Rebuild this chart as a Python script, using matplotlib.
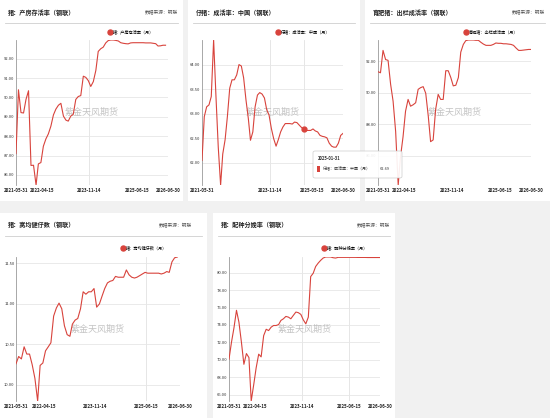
import matplotlib
matplotlib.use("Agg")
import matplotlib.pyplot as plt
from matplotlib.patches import Rectangle, FancyBboxPatch
from matplotlib.lines import Line2D
import pandas as pd

plt.rcParams['font.family'] = ['Noto Sans CJK SC', 'DejaVu Sans']

# monthly data, month ends from 2021-05-31
farrow = [87.10, 90.40, 89.22, 89.20, 89.90, 90.35, 86.49, 86.50, 85.48, 86.57,
          86.64, 87.48, 87.86, 88.12, 88.52, 89.10, 89.40, 89.60, 89.70, 89.04,
          88.83, 88.78, 89.04, 89.13, 89.90, 90.05, 90.10, 91.10, 91.04, 90.87,
          90.57, 90.82, 91.40, 92.38, 92.52, 92.60, 92.82, 92.94, 92.97, 92.97,
          92.95, 92.92, 92.83, 92.80, 92.78, 92.77, 92.82, 92.83, 92.83, 92.83,
          92.83, 92.83, 92.82, 92.82, 92.82, 92.80, 92.78, 92.66, 92.67, 92.70,
          92.70]

piglet = [62.05, 62.94, 63.14, 63.18, 63.35, 64.50, 63.38, 62.32, 61.55, 62.18,
          62.47, 62.94, 63.52, 63.69, 63.69, 63.79, 64.00, 63.97, 63.73, 63.28,
          62.90, 62.46, 62.63, 63.14, 63.38, 63.43, 63.40, 63.32, 63.08, 62.97,
          62.70, 62.49, 62.34, 62.47, 62.63, 62.73, 62.80, 62.80, 62.80, 62.79,
          62.83, 62.82, 62.77, 62.72, 62.69, 62.66, 62.66, 62.66, 62.69, 62.65,
          62.63, 62.56, 62.54, 62.53, 62.51, 62.40, 62.34, 62.32, 62.32, 62.40,
          62.56, 62.60]

finisher = [91.34, 91.27, 92.69, 92.11, 92.06, 90.54, 89.47, 87.55, 84.15, 85.94,
            87.22, 88.83, 89.58, 89.15, 89.24, 89.37, 90.22, 90.33, 90.39, 89.97,
            88.51, 86.90, 87.01, 88.94, 89.90, 89.58, 89.58, 91.40, 91.40, 90.97,
            90.44, 90.48, 90.97, 92.58, 93.07, 93.31, 93.35, 93.35, 93.35, 93.33,
            93.33, 93.20, 93.09, 93.01, 93.01, 93.01, 93.07, 93.16, 93.14, 93.14,
            93.11, 93.11, 93.09, 93.07, 93.01, 92.84, 92.69, 92.69, 92.71, 92.73,
            92.75, 92.75]

healthy = [10.26, 10.35, 10.32, 10.47, 10.38, 10.38, 10.25, 10.08, 9.80, 10.24,
           10.27, 10.42, 10.47, 10.52, 10.85, 10.95, 11.01, 10.94, 10.73, 10.62,
           10.60, 10.75, 10.80, 10.82, 10.94, 11.15, 11.12, 11.15, 11.15, 11.19,
           10.96, 11.00, 11.10, 11.19, 11.26, 11.28, 11.29, 11.34, 11.33, 11.33,
           11.33, 11.42, 11.36, 11.33, 11.32, 11.33, 11.35, 11.37, 11.39, 11.38,
           11.38, 11.38, 11.38, 11.38, 11.37, 11.38, 11.40, 11.39, 11.52, 11.57,
           11.58]

farrowing = [70.08, 72.00, 73.67, 75.68, 74.32, 72.00, 69.50, 70.73, 70.27, 65.30,
             67.18, 69.11, 70.66, 70.35, 72.78, 73.51, 73.36, 73.75, 73.94, 73.94,
             74.05, 74.52, 74.71, 74.98, 74.90, 74.71, 75.10, 75.48, 75.41, 75.21,
             74.59, 74.13, 74.90, 79.54, 79.92, 80.69, 81.08, 81.39, 81.66, 81.78,
             81.78, 81.78, 81.70, 81.66, 81.74, 81.74, 81.74, 81.74, 81.74, 81.74,
             81.74, 81.74, 81.73, 81.73, 81.73, 81.73, 81.72, 81.72, 81.72, 81.72,
             81.72, 81.72]

titles = ['猪：产房存活率（钢联）', '仔猪：成活率：中国（钢联）', '育肥猪：出栏成活率（钢联）',
          '猪：窝均健仔数（钢联）', '猪：配种分娩率（钢联）']
legends = ['猪：产房存活率（月）', '仔猪：成活率：中国（月）', '育肥猪：出栏成活率（月）',
           '猪：窝均健仔数（月）', '猪：配种分娩率（月）']
source = '数据来源：钢联'
ticks_full = ['2021-05-31', '2022-04-15', '2023-11-14', '2025-06-15', '2026-06-30']
ticks_p2 = ['2021-05-31', '2023-11-14', '2025-05-15', '2026-06-30']
yticks = [[86, 87, 88, 89, 90, 91, 92], [62, 62.5, 63, 63.5, 64], [86, 88, 90, 92],
          [10, 10.5, 11, 11.5], [66, 68, 70, 72, 74, 76, 78, 80]]
tip_date = '2025-01-31'

W, H = 550, 418
RED = '#d8433c'

fig = plt.figure(figsize=(W / 100, H / 100), dpi=100, facecolor='#f1f1f1')


def fx(x):
    return x / W


def fy(y):
    return 1 - y / H


def card(x0, y0, x1, y1):
    fig.add_artist(Rectangle((fx(x0), fy(y1)), fx(x1 - x0), (y1 - y0) / H,
                             transform=fig.transFigure, facecolor='white',
                             edgecolor='none', zorder=0))


def panel(cardbox, axbox, title, leg, legpos, vals, ticks, yt, vlines, src_x):
    x0, y0, x1, y1 = cardbox
    card(x0, y0, x1, y1)
    fig.text(fx(x0 + 8), fy(y0 + 12), title, fontsize=4.4, fontweight='bold',
             color='#222222', va='center', ha='left')
    if src_x:
        fig.text(fx(src_x), fy(y0 + 12), source, fontsize=3.4, color='#555555',
                 va='center', ha='right', style='italic')
    fig.add_artist(Line2D([fx(x0 + 5), fx(x1 - 5)], [fy(y0 + 23)] * 2,
                          transform=fig.transFigure, color='#cfcfcf', lw=0.6))

    ax0, ay0, ax1, ay1 = axbox
    ax = fig.add_axes([fx(ax0), fy(ay1), fx(ax1 - ax0), (ay1 - ay0) / H])
    ax.set_facecolor('white')
    dates = pd.date_range('2021-05-31', periods=len(vals), freq='ME')
    ax.plot(dates, vals, color=RED, lw=0.8, zorder=3)
    for v in vlines:
        ax.axvline(pd.Timestamp(v), color='#e2e2e2', lw=0.6, zorder=1)
    ax.set_xlim(pd.Timestamp('2021-05-31'), pd.Timestamp('2026-06-30'))
    ax.set_ylim(min(vals), max(vals))
    ax.set_xticks([pd.Timestamp(t) for t in ticks])
    ax.set_xticklabels(ticks, fontsize=3.2, fontweight='bold', color='#222222')
    ax.set_yticks(yt)
    ax.set_yticklabels(['%.2f' % v for v in yt], fontsize=3.0, color='#333333')
    ax.tick_params(length=0, pad=2)
    ax.tick_params(axis='y', pad=1)
    ax.grid(axis='y', color='#e6e6e6', lw=0.6, zorder=1)
    for s in ['top', 'right', 'bottom']:
        ax.spines[s].set_visible(False)
    ax.spines['left'].set_color('#9a9a9a')
    ax.spines['left'].set_linewidth(0.6)
    ax.text(0.5, 0.5, '紫金天风期货', transform=ax.transAxes, fontsize=6.5,
            color='#b0b0b0', alpha=0.75, ha='center', va='center', zorder=2)

    handle = Line2D([], [], color=RED, marker='o', markersize=3.6, ls='none')
    fig.legend([handle], [leg], loc='center', frameon=False,
               bbox_to_anchor=(fx(legpos[0]), fy(legpos[1])),
               prop={'size': 3.0}, handletextpad=0.1, handlelength=1.0,
               borderpad=0, borderaxespad=0)
    return ax, dates


panel((0, 0, 183, 201), (16, 40, 168, 185), titles[0], legends[0], (131, 32),
      farrow, ticks_full, yticks[0], ['2023-11-14'], 178)
ax2, d2 = panel((188, 0, 360, 201), (202, 40, 343, 185), titles[1], legends[1], (303, 32),
                piglet, ticks_p2, yticks[1], ['2023-11-14', tip_date], None)
panel((365, 0, 550, 201), (378, 40, 531, 185), titles[2], legends[2], (491, 32),
      finisher, ticks_full, yticks[2], [], 545)
panel((0, 213, 207, 418), (16, 257, 180, 401), titles[3], legends[3], (144, 248),
      healthy, ticks_full, yticks[3], ['2025-06-15'], 192)
panel((213, 213, 395, 418), (229, 257, 380, 401), titles[4], legends[4], (345, 248),
      farrowing, ticks_full, yticks[4], ['2023-11-14', '2025-06-15'], 390)

# hover tooltip on the piglet chart
i = list(d2).index(pd.Timestamp(tip_date))
ax2.plot(d2[i], piglet[i], marker='o', color=RED, markersize=3.5, zorder=4)
tip = FancyBboxPatch((fx(313), fy(178)), fx(89), 27 / H,
                     boxstyle='round,pad=0,rounding_size=0.004',
                     transform=fig.transFigure, facecolor='white', alpha=0.92,
                     edgecolor='#c8c8c8', lw=0.5, zorder=10)
fig.add_artist(tip)
fig.text(fx(318), fy(158), tip_date, fontsize=3.0, fontweight='bold', color='#333333',
         va='center', zorder=11)
fig.add_artist(Rectangle((fx(317), fy(172)), fx(3), 6 / H, transform=fig.transFigure,
                         facecolor=RED, edgecolor='none', zorder=11))
fig.text(fx(323), fy(169), legends[1], fontsize=2.9, color='#333333', va='center', zorder=11)
fig.text(fx(390), fy(169), '%.2f' % piglet[i], fontsize=2.9, color='#333333',
         va='center', ha='right', zorder=11)

fig.savefig('out.png', dpi=100, facecolor=fig.get_facecolor())
